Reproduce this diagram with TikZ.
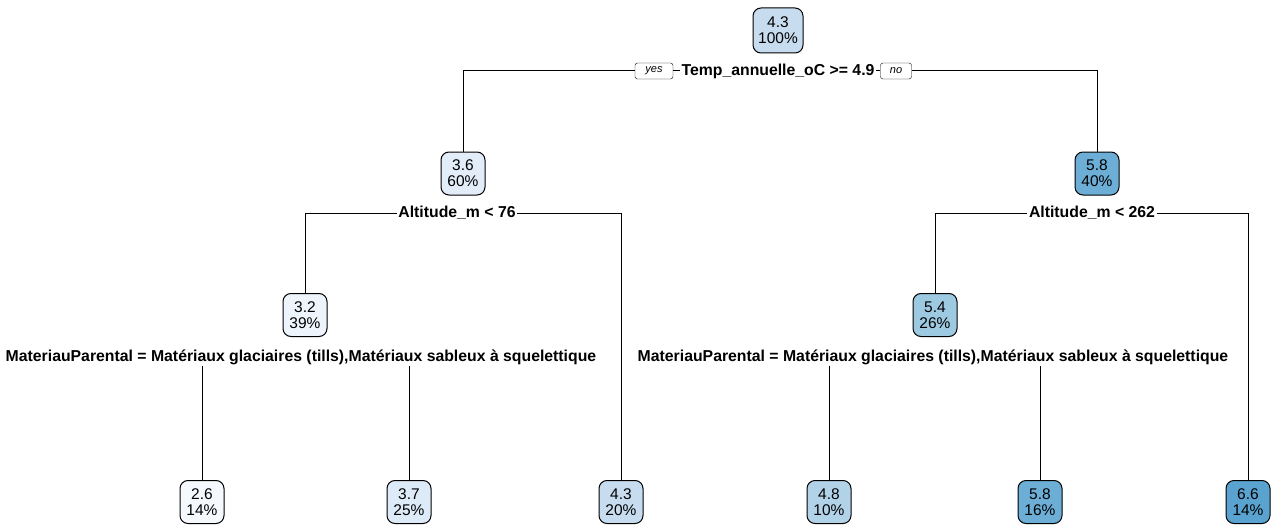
\documentclass[tikz,border=0pt]{standalone}
\usepackage{fontspec}
\setmainfont{Liberation Sans}
\definecolor{c26}{HTML}{F5F9FE}
\definecolor{c32}{HTML}{EEF4FC}
\definecolor{c36}{HTML}{E2EDF9}
\definecolor{c37}{HTML}{DDEAF7}
\definecolor{c43}{HTML}{C7DCEF}
\definecolor{c48}{HTML}{B2D2E8}
\definecolor{c54}{HTML}{9DC9E1}
\definecolor{c58}{HTML}{6CAED6}
\definecolor{c66}{HTML}{5AA2CF}
\begin{document}
\begin{tikzpicture}[x=1pt,y=-1pt,
  tnode/.style={draw=black,line width=1pt,rounded corners=8pt,minimum width=44pt,minimum height=43pt,inner sep=1pt,align=center,font=\fontsize{15.5}{16}\selectfont},
  split/.style={fill=white,inner sep=1.5pt,font=\bfseries\fontsize{15.8}{17}\selectfont},
  yn/.style={draw=black,fill=white,rounded corners=2.5pt,inner sep=1pt,minimum height=16pt,font=\itshape\fontsize{11}{12}\selectfont},
  edge/.style={draw=black,line width=1pt}]
\useasboundingbox (0,0) rectangle (1275,527);
% nodes
\node[tnode,fill=c43,minimum width=50pt,minimum height=45pt] (root) at (778,30.5) {4.3\\100\%};
\node[tnode,fill=c36] (n2) at (463,173.5) {3.6\\60\%};
\node[tnode,fill=c58] (n3) at (1097,173.5) {5.8\\40\%};
\node[tnode,fill=c32] (n4) at (305,315) {3.2\\39\%};
\node[tnode,fill=c54] (n5) at (935,315) {5.4\\26\%};
\node[tnode,fill=c26] (l1) at (202,502) {2.6\\14\%};
\node[tnode,fill=c37] (l2) at (409,502) {3.7\\25\%};
\node[tnode,fill=c43] (l3) at (621,502) {4.3\\20\%};
\node[tnode,fill=c48] (l4) at (829,502) {4.8\\10\%};
\node[tnode,fill=c58] (l5) at (1040,502) {5.8\\16\%};
\node[tnode,fill=c66] (l6) at (1248,502) {6.6\\14\%};
% split labels
\node[split] (s1) at (778,71) {Temp\_annuelle\_oC >= 4.9};
\node[yn,minimum width=38pt] (yes) at (654,71) {yes};
\node[yn,minimum width=31pt] (no) at (896,71) {no};
\node[split] (s2) at (457,213) {Altitude\_m < 76};
\node[split] (s3) at (1092,213) {Altitude\_m < 262};
\node[split] (s4) at (301,357) {MateriauParental = Matériaux glaciaires (tills),Matériaux sableux à squelettique};
\node[split] (s5) at (933,357) {MateriauParental = Matériaux glaciaires (tills),Matériaux sableux à squelettique};
% connectors
\draw[edge] (n2.north) |- (yes.west);
\draw[edge] (yes.east) -- (s1.west);
\draw[edge] (s1.east) -- (no.west);
\draw[edge] (no.east) -| (n3.north);
\draw[edge] (n4.north) |- (s2.west);
\draw[edge] (s2.east) -| (l3.north);
\draw[edge] (n5.north) |- (s3.west);
\draw[edge] (s3.east) -| (l6.north);
\draw[edge] (l1.north) -- (l1.north |- s4.south);
\draw[edge] (l2.north) -- (l2.north |- s4.south);
\draw[edge] (l4.north) -- (l4.north |- s5.south);
\draw[edge] (l5.north) -- (l5.north |- s5.south);
\end{tikzpicture}
\end{document}
